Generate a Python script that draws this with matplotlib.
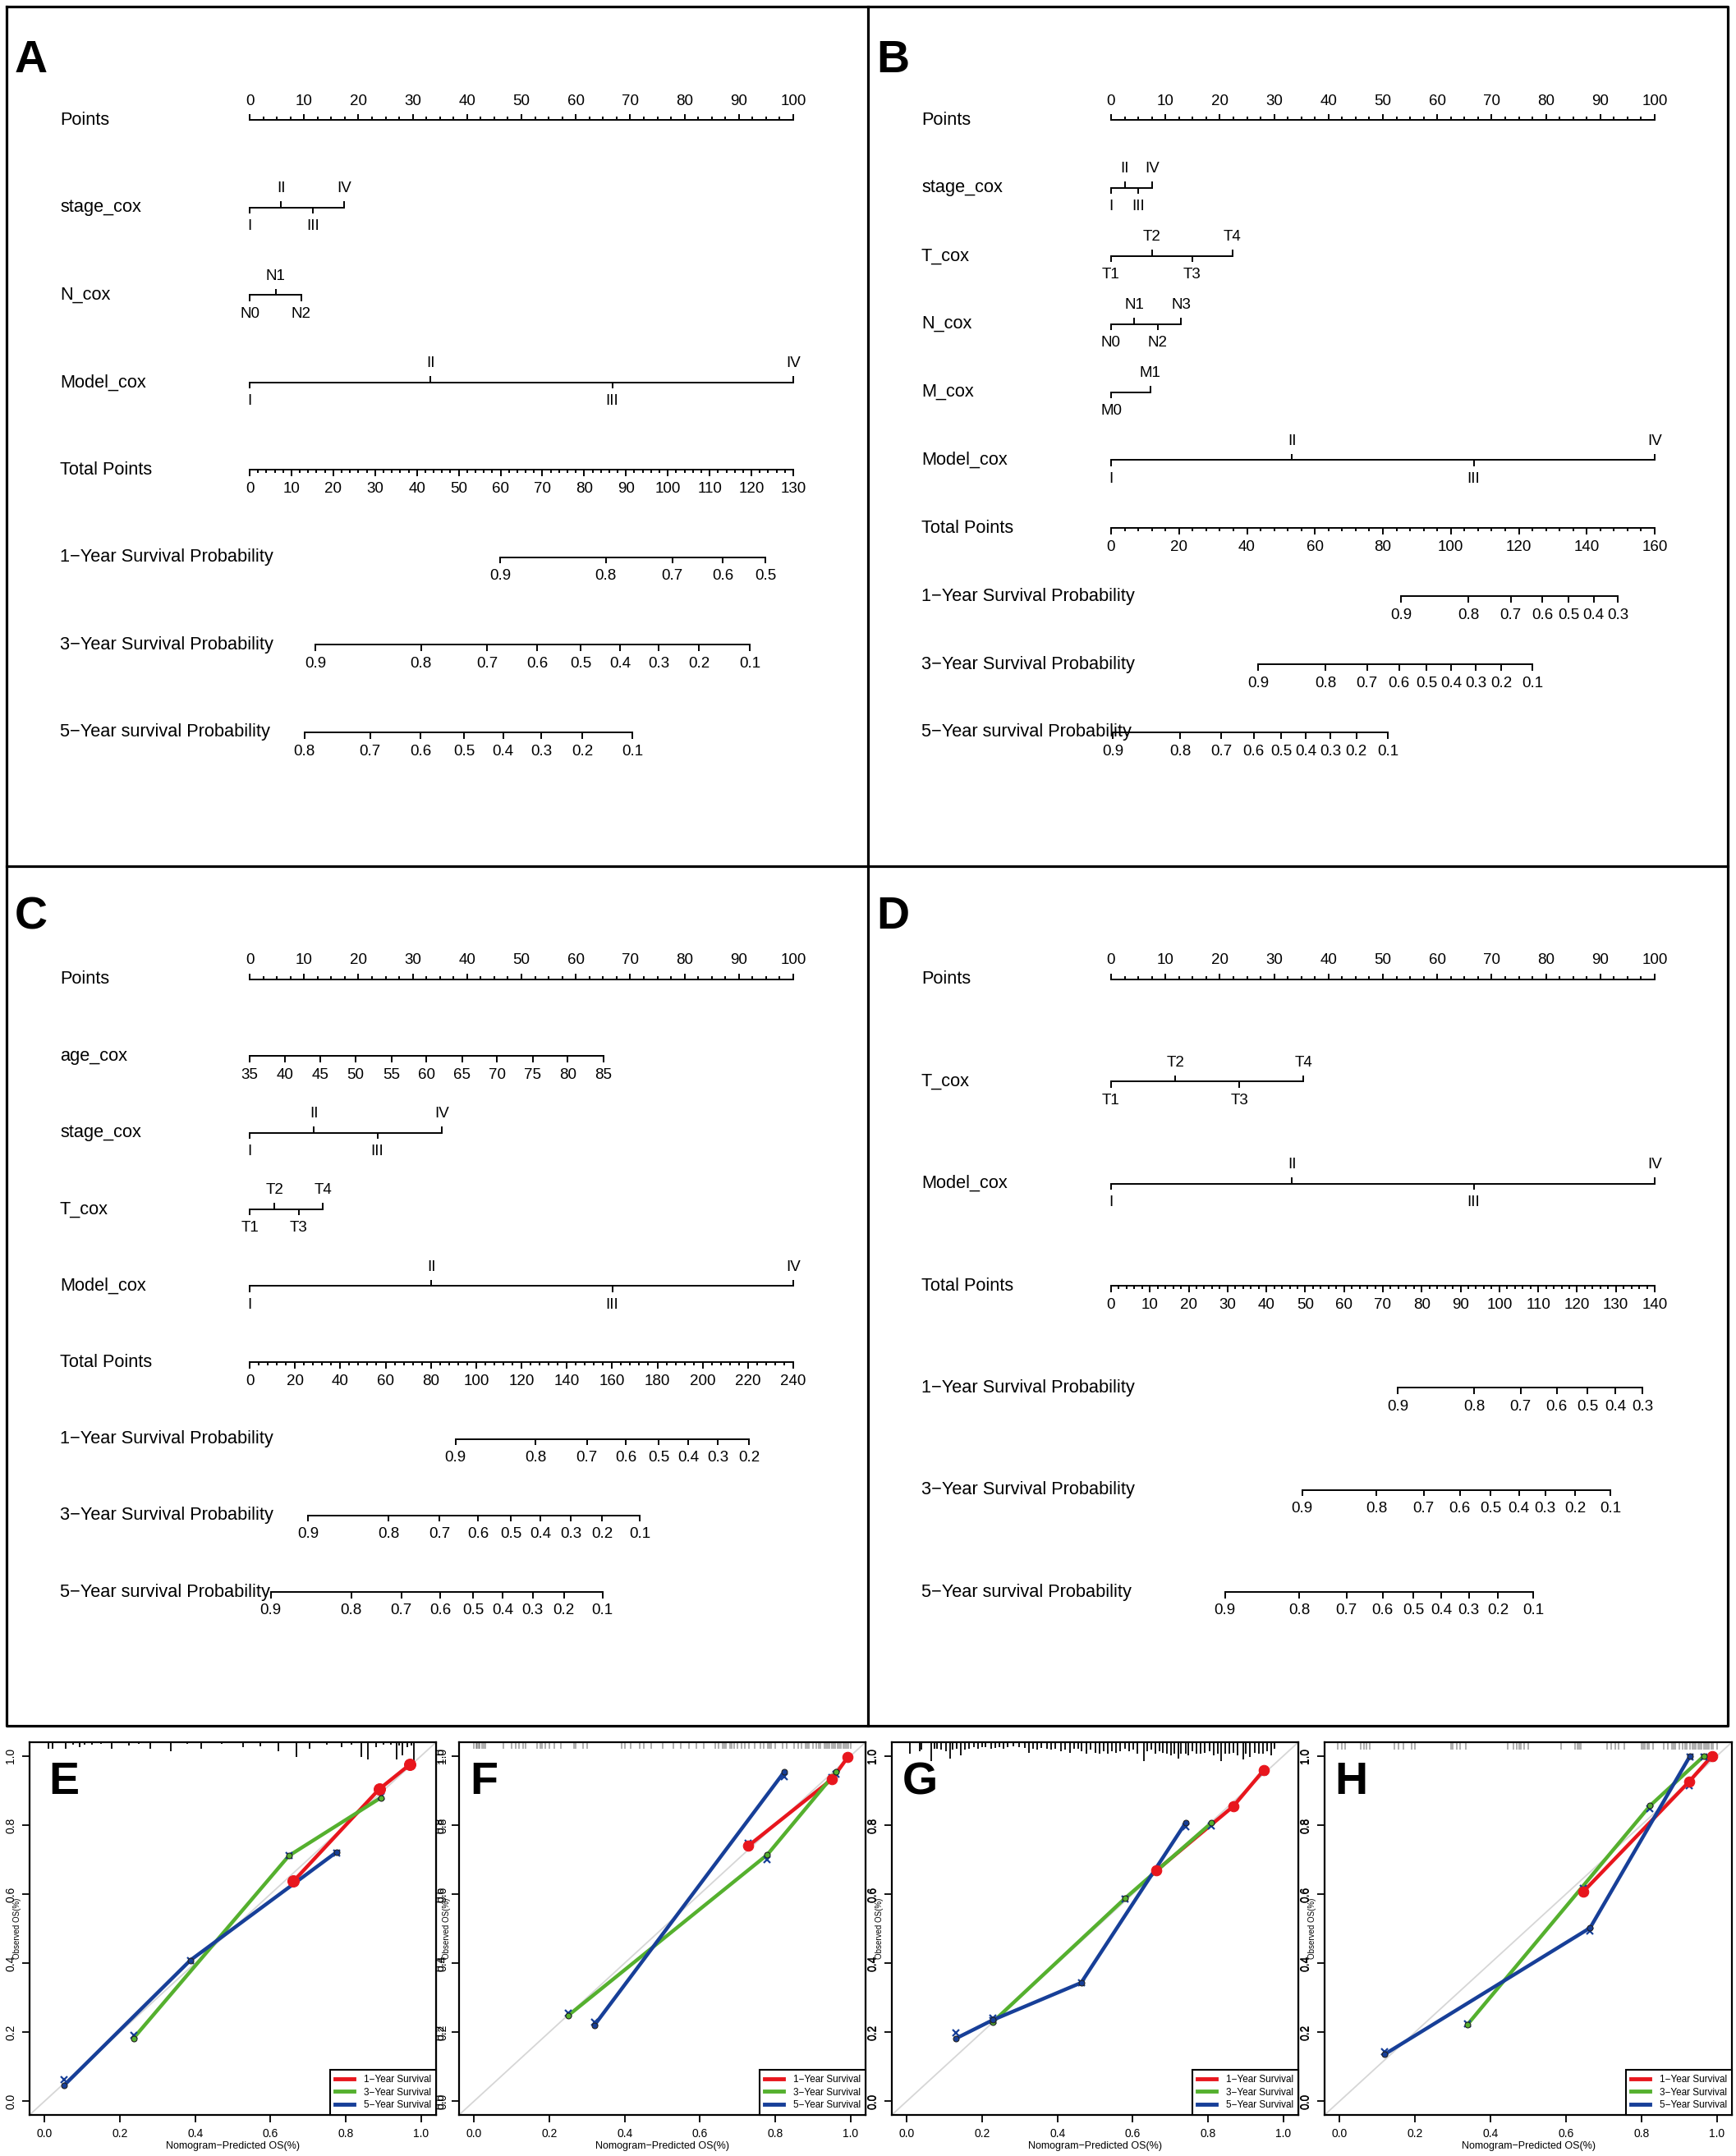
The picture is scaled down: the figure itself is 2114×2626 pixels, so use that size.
import numpy as np
import matplotlib
matplotlib.use("Agg")
import matplotlib.pyplot as plt
from matplotlib.lines import Line2D
from matplotlib.ticker import FormatStrFormatter

plt.rcParams['font.family'] = ['Liberation Sans', 'DejaVu Sans']

# ---------------- nomogram data (points scale 0-100) ----------------
stage_levels = ["I", "II", "III", "IV"]
model_levels = ["I", "II", "III", "IV"]
t_levels = ["T1", "T2", "T3", "T4"]
n3_levels = ["N0", "N1", "N2"]
n4_levels = ["N0", "N1", "N2", "N3"]
m_levels = ["M0", "M1"]

p_9_to_5 = [0.9, 0.8, 0.7, 0.6, 0.5]
p_9_to_3 = [0.9, 0.8, 0.7, 0.6, 0.5, 0.4, 0.3]
p_9_to_2 = [0.9, 0.8, 0.7, 0.6, 0.5, 0.4, 0.3, 0.2]
p_9_to_1 = [0.9, 0.8, 0.7, 0.6, 0.5, 0.4, 0.3, 0.2, 0.1]
p_8_to_1 = [0.8, 0.7, 0.6, 0.5, 0.4, 0.3, 0.2, 0.1]

# panel A
a_stage = [0, 5.8, 11.6, 17.4]
a_n = [0, 4.8, 9.5]
a_model = [0, 33.3, 66.7, 100]
a_total_max = 130
a_1y_tp = [59.9, 85.2, 101.1, 113.1, 123.3]
a_3y_tp = [15.7, 41.0, 56.8, 68.8, 79.2, 88.6, 97.8, 107.5, 119.6]
a_5y_tp = [13.1, 28.8, 40.9, 51.3, 60.6, 69.7, 79.6, 91.5]

# panel B
b_stage = [0, 2.5, 5.0, 7.5]
b_t = [0, 7.5, 14.9, 22.3]
b_n = [0, 4.3, 8.6, 12.9]
b_m = [0, 7.2]
b_model = [0, 33.3, 66.7, 100]
b_total_max = 160
b_1y_tp = [85.4, 105.2, 117.6, 126.9, 134.7, 142.0, 149.2]
b_3y_tp = [43.3, 63.1, 75.3, 84.8, 92.8, 100.1, 107.3, 114.8, 124.1]
b_5y_tp = [0.5, 20.3, 32.5, 42.0, 50.0, 57.3, 64.5, 72.2, 81.5]

# panel C
c_age = [35, 40, 45, 50, 55, 60, 65, 70, 75, 80, 85]
c_age_pts = [0, 6.5, 13.0, 19.5, 26.1, 32.5, 39.1, 45.5, 52.1, 58.5, 65.1]
c_stage = [0, 11.8, 23.5, 35.3]
c_t = [0, 4.6, 9.0, 13.5]
c_model = [0, 33.4, 66.7, 100]
c_total_max = 240
c_1y_tp = [90.9, 126.3, 148.9, 166.1, 180.6, 193.6, 206.6, 220.4]
c_3y_tp = [25.8, 61.4, 83.8, 100.9, 115.4, 128.5, 141.7, 155.5, 172.2]
c_5y_tp = [9.3, 44.9, 67.0, 84.2, 98.7, 111.8, 125.0, 138.8, 155.8]

# panel D
d_t = [0, 11.8, 23.6, 35.4]
d_model = [0, 33.3, 66.7, 100]
d_total_max = 140
d_1y_tp = [73.9, 93.5, 105.5, 114.8, 122.7, 129.9, 136.9]
d_3y_tp = [49.2, 68.3, 80.5, 89.8, 97.7, 105.0, 111.8, 119.5, 128.6]
d_5y_tp = [29.3, 48.5, 60.6, 69.9, 77.8, 85.1, 92.1, 99.7, 108.8]

Y1 = "1\u2212Year Survival Probability"
Y3 = "3\u2212Year Survival Probability"
Y5 = "5\u2212Year survival Probability"

# ---------------- calibration data ----------------
e_red_x = [0.661, 0.889, 0.970]
e_red_y = [0.637, 0.904, 0.975]
e_red_xm = [0.637, 0.904, 0.975]
e_green_x = [0.236, 0.649, 0.893]
e_green_y = [0.182, 0.711, 0.879]
e_green_xm = [0.191, 0.712, 0.882]
e_blue_x = [0.051, 0.387, 0.775]
e_blue_y = [0.045, 0.408, 0.721]
e_blue_xm = [0.063, 0.407, 0.719]

f_red_x = [0.729, 0.951, 0.993]
f_red_y = [0.740, 0.933, 0.997]
f_red_xm = [0.748, 0.937, 0.995]
f_green_x = [0.251, 0.779, 0.962]
f_green_y = [0.249, 0.714, 0.954]
f_green_xm = [0.254, 0.701, 0.947]
f_blue_x = [0.319, 0.824]
f_blue_y = [0.219, 0.954]
f_blue_xm = [0.228, 0.940]

g_red_x = [0.663, 0.867, 0.948]
g_red_y = [0.668, 0.854, 0.959]
g_red_xm = [0.668, 0.854, 0.955]
g_green_x = [0.228, 0.579, 0.809]
g_green_y = [0.229, 0.587, 0.806]
g_green_xm = [0.233, 0.585, 0.797]
g_blue_x = [0.131, 0.228, 0.463, 0.741]
g_blue_y = [0.182, 0.235, 0.343, 0.807]
g_blue_xm = [0.198, 0.241, 0.343, 0.795]

h_red_x = [0.646, 0.926, 0.987]
h_red_y = [0.607, 0.925, 1.000]
h_red_xm = [0.617, 0.915, 0.995]
h_green_x = [0.339, 0.823, 0.966]
h_green_y = [0.222, 0.856, 1.000]
h_green_xm = [0.224, 0.847, 0.998]
h_blue_x = [0.118, 0.664, 0.929]
h_blue_y = [0.135, 0.502, 1.000]
h_blue_xm = [0.143, 0.494, 0.996]

# rug of predicted values at the top (position, length)
e_rug_x = [0.011, 0.020, 0.055, 0.075, 0.094, 0.107, 0.126, 0.150, 0.179, 0.224, 0.250,
           0.280, 0.336, 0.380, 0.417, 0.470, 0.527, 0.573, 0.620, 0.670, 0.705, 0.750,
           0.790, 0.816, 0.841, 0.858, 0.880, 0.900, 0.920, 0.936, 0.942, 0.951, 0.963,
           0.974, 0.981]
e_rug_len = [0.018, 0.018, 0.018, 0.006, 0.014, 0.006, 0.006, 0.005, 0.018, 0.010, 0.005,
             0.018, 0.026, 0.005, 0.018, 0.005, 0.014, 0.012, 0.026, 0.043, 0.018, 0.006,
             0.014, 0.006, 0.043, 0.051, 0.014, 0.008, 0.006, 0.051, 0.010, 0.038, 0.014,
             0.010, 0.055]

f_rug_x = [0.000, 0.005, 0.008, 0.012, 0.015, 0.020, 0.025, 0.030, 0.077, 0.100, 0.110,
           0.120, 0.130, 0.137, 0.167, 0.175, 0.180, 0.190, 0.200, 0.212, 0.230, 0.265,
           0.270, 0.290, 0.300, 0.393, 0.400, 0.415, 0.440, 0.450, 0.470, 0.500, 0.530,
           0.550, 0.570, 0.590, 0.610, 0.640, 0.650, 0.660, 0.665, 0.670, 0.680, 0.685,
           0.690, 0.700, 0.710, 0.720, 0.730, 0.745, 0.760, 0.770, 0.780, 0.785, 0.790,
           0.800, 0.820, 0.830, 0.850, 0.860, 0.870, 0.880, 0.885, 0.890, 0.900, 0.910,
           0.915, 0.920, 0.930, 0.935, 0.940, 0.945, 0.950, 0.955, 0.960, 0.965, 0.970,
           0.975, 0.980, 0.985, 0.990, 0.995, 1.000]
f_rug_len = 0.02

g_rug_x = [0.009, 0.035, 0.039, 0.064, 0.073, 0.080, 0.091, 0.103, 0.115, 0.121, 0.133,
           0.144, 0.155, 0.166, 0.178, 0.189, 0.200, 0.208, 0.223, 0.234, 0.245, 0.256,
           0.268, 0.283, 0.298, 0.313, 0.324, 0.335, 0.346, 0.358, 0.373, 0.384, 0.395,
           0.410, 0.421, 0.433, 0.444, 0.455, 0.463, 0.478, 0.489, 0.500, 0.511, 0.522,
           0.534, 0.545, 0.556, 0.567, 0.579, 0.590, 0.601, 0.612, 0.630, 0.639, 0.650,
           0.661, 0.672, 0.680, 0.691, 0.701, 0.710, 0.721, 0.729, 0.740, 0.747, 0.759,
           0.770, 0.781, 0.792, 0.804, 0.815, 0.826, 0.834, 0.845, 0.856, 0.867, 0.879,
           0.894, 0.901, 0.912, 0.924, 0.935, 0.946, 0.957, 0.967, 0.976]
g_rug_len = [0.034, 0.026, 0.022, 0.055, 0.018, 0.018, 0.022, 0.026, 0.047, 0.022, 0.018,
             0.038, 0.022, 0.018, 0.014, 0.018, 0.014, 0.014, 0.018, 0.016, 0.014, 0.018,
             0.015, 0.013, 0.014, 0.016, 0.030, 0.018, 0.022, 0.016, 0.018, 0.022, 0.018,
             0.026, 0.022, 0.030, 0.018, 0.020, 0.026, 0.034, 0.022, 0.030, 0.034, 0.025,
             0.034, 0.025, 0.030, 0.026, 0.018, 0.025, 0.022, 0.034, 0.055, 0.026, 0.022,
             0.034, 0.025, 0.030, 0.034, 0.038, 0.033, 0.047, 0.034, 0.033, 0.038, 0.026,
             0.034, 0.033, 0.030, 0.026, 0.038, 0.034, 0.055, 0.033, 0.034, 0.030, 0.038,
             0.051, 0.033, 0.043, 0.030, 0.034, 0.033, 0.025, 0.038, 0.018]

h_rug_x = [-0.005, 0.005, 0.015, 0.055, 0.065, 0.072, 0.080, 0.145, 0.155, 0.170, 0.190,
           0.200, 0.295, 0.300, 0.310, 0.320, 0.335, 0.445, 0.460, 0.470, 0.475, 0.480,
           0.490, 0.500, 0.588, 0.625, 0.630, 0.635, 0.640, 0.710, 0.720, 0.730, 0.740,
           0.755, 0.800, 0.805, 0.810, 0.815, 0.820, 0.830, 0.860, 0.870, 0.880, 0.885,
           0.890, 0.900, 0.910, 0.915, 0.920, 0.930, 0.935, 0.940, 0.945, 0.950, 0.955,
           0.960, 0.965, 0.970, 0.975, 0.980, 0.985, 0.990, 1.000]
h_rug_len = 0.022

legend_labels = ["1\u2212Year Survival", "3\u2212Year Survival", "5\u2212Year Survival"]
RED, GREEN, BLUE = '#E8161D', '#55B02E', '#173F98'

# ---------------- layout ----------------
W, H = 2114, 2626
fig = plt.figure(figsize=(W / 100, H / 100), dpi=100)

bg = fig.add_axes([0, 0, 1, 1])
bg.set_xlim(0, W)
bg.set_ylim(H, 0)
bg.axis('off')
for xs, ys in [([8, 2104, 2104, 8, 8], [8, 8, 2102, 2102, 8]),
               ([1057, 1057], [8, 2102]), ([8, 2104], [1055, 1055])]:
    bg.plot(xs, ys, color='black', lw=2.3, solid_capstyle='projecting')

AX0 = 296      # axis start from panel left (px)
SC = 6.62      # px per point
LW = 1.4
ROW_FS = 15.7
TICK_FS = 13.5
OFF = 23


def nomogram(box, letter, letter_dy, rows):
    x0, y0, x1, y1 = box
    w, h = x1 - x0, y1 - y0
    ax = fig.add_axes([x0 / W, 1 - y1 / H, w / W, h / H])
    ax.set_xlim(-AX0 / SC, (w - AX0) / SC)
    ax.set_ylim(h, 0)
    ax.axis('off')
    lbl_x = (65 - AX0) / SC
    ax.text((10 - AX0) / SC, letter_dy, letter, fontsize=40, fontweight='bold',
            ha='left', va='top')
    n = len(rows)
    for i, row in enumerate(rows):
        y = 138 + i * 746 / (n - 1)
        kind = row[0]
        ax.text(lbl_x, y, row[1], fontsize=ROW_FS, ha='left', va='center')
        if kind == 'points':
            ax.plot([0, 100], [y, y], color='k', lw=LW)
            ticks = np.arange(0, 100.01, 2.5)
            major = ticks[ticks % 10 == 0]
            minor = ticks[ticks % 10 != 0]
            ax.vlines(major, y - 7.5, y, color='k', lw=LW)
            ax.vlines(minor, y - 4, y, color='k', lw=LW)
            for v in major:
                ax.text(v, y - OFF, f"{v:g}", fontsize=TICK_FS, ha='center', va='center')
        elif kind == 'cat':
            levels, pts = row[2], row[3]
            ax.plot([pts[0], pts[-1]], [y, y], color='k', lw=LW)
            for j, (lv, p) in enumerate(zip(levels, pts)):
                up = j % 2 == 1
                ax.vlines(p, y - 7.5 if up else y, y if up else y + 7.5, color='k', lw=LW)
                ax.text(p, y - OFF if up else y + OFF, lv, fontsize=TICK_FS,
                        ha='center', va='center')
        elif kind == 'cont':
            labels, pts = row[2], row[3]
            ax.plot([pts[0], pts[-1]], [y, y], color='k', lw=LW)
            ax.vlines(pts, y, y + 7.5, color='k', lw=LW)
            for lv, p in zip(labels, pts):
                ax.text(p, y + OFF, str(lv), fontsize=TICK_FS, ha='center', va='center')
        elif kind == 'total':
            tmax, step, mstep = row[2], row[3], row[4]
            ax.plot([0, 100], [y, y], color='k', lw=LW)
            ticks = np.arange(0, tmax + 0.01, mstep)
            major = ticks[np.isclose(ticks % step, 0)]
            minor = ticks[~np.isclose(ticks % step, 0)]
            ax.vlines(major / tmax * 100, y, y + 7.5, color='k', lw=LW)
            ax.vlines(minor / tmax * 100, y, y + 4, color='k', lw=LW)
            for v in major:
                ax.text(v / tmax * 100, y + OFF, f"{v:g}", fontsize=TICK_FS,
                        ha='center', va='center')
        elif kind == 'prob':
            probs, tps, tmax = row[2], row[3], row[4]
            xs = np.array(tps) / tmax * 100
            ax.plot([xs.min(), xs.max()], [y, y], color='k', lw=LW)
            ax.vlines(xs, y, y + 7.5, color='k', lw=LW)
            for p, x in zip(probs, xs):
                ax.text(x, y + OFF, f"{p:g}", fontsize=TICK_FS, ha='center', va='center')


nomogram((8, 8, 1057, 1055), 'A', 40, [
    ('points', 'Points'),
    ('cat', 'stage_cox', stage_levels, a_stage),
    ('cat', 'N_cox', n3_levels, a_n),
    ('cat', 'Model_cox', model_levels, a_model),
    ('total', 'Total Points', a_total_max, 10, 2),
    ('prob', Y1, p_9_to_5, a_1y_tp, a_total_max),
    ('prob', Y3, p_9_to_1, a_3y_tp, a_total_max),
    ('prob', Y5, p_8_to_1, a_5y_tp, a_total_max),
])

nomogram((1057, 8, 2104, 1055), 'B', 40, [
    ('points', 'Points'),
    ('cat', 'stage_cox', stage_levels, b_stage),
    ('cat', 'T_cox', t_levels, b_t),
    ('cat', 'N_cox', n4_levels, b_n),
    ('cat', 'M_cox', m_levels, b_m),
    ('cat', 'Model_cox', model_levels, b_model),
    ('total', 'Total Points', b_total_max, 20, 4),
    ('prob', Y1, p_9_to_3, b_1y_tp, b_total_max),
    ('prob', Y3, p_9_to_1, b_3y_tp, b_total_max),
    ('prob', Y5, p_9_to_1, b_5y_tp, b_total_max),
])

nomogram((8, 1055, 1057, 2102), 'C', 36, [
    ('points', 'Points'),
    ('cont', 'age_cox', c_age, c_age_pts),
    ('cat', 'stage_cox', stage_levels, c_stage),
    ('cat', 'T_cox', t_levels, c_t),
    ('cat', 'Model_cox', model_levels, c_model),
    ('total', 'Total Points', c_total_max, 20, 4),
    ('prob', Y1, p_9_to_2, c_1y_tp, c_total_max),
    ('prob', Y3, p_9_to_1, c_3y_tp, c_total_max),
    ('prob', Y5, p_9_to_1, c_5y_tp, c_total_max),
])

nomogram((1057, 1055, 2104, 2102), 'D', 36, [
    ('points', 'Points'),
    ('cat', 'T_cox', t_levels, d_t),
    ('cat', 'Model_cox', model_levels, d_model),
    ('total', 'Total Points', d_total_max, 10, 2),
    ('prob', Y1, p_9_to_3, d_1y_tp, d_total_max),
    ('prob', Y3, p_9_to_1, d_3y_tp, d_total_max),
    ('prob', Y5, p_9_to_1, d_5y_tp, d_total_max),
])


# ---------------- calibration plots ----------------
def calib(xspan, letter, letter_x, curves, rug_x, rug_len, rug_color, rug_alpha,
          right_labels=True):
    x0, x1 = xspan
    top, bot = 2122, 2576
    ax = fig.add_axes([x0 / W, 1 - bot / H, (x1 - x0) / W, (bot - top) / H])
    ax.set_xlim(-0.04, 1.04)
    ax.set_ylim(-0.04, 1.04)
    ax.axline((0, 0), (1, 1), color='#d6d6d6', lw=1.3, zorder=1)
    ax.vlines(rug_x, 1.04 - np.asarray(rug_len), 1.04, color=rug_color,
              alpha=rug_alpha, lw=1.3, zorder=2)
    for (cx, cy, cxm, col, ms) in curves:
        ax.plot(cx, cy, color=col, lw=3.2, zorder=3, solid_capstyle='butt')
        ax.plot(cx, cxm, ls='none', marker='x', ms=5.5, mew=1.6, color=BLUE, zorder=4)
        ax.plot(cx, cy, ls='none', marker='o', ms=ms, mfc=col,
                mec=col if col == RED else '#222222', mew=0.8, zorder=5)
    ticks = np.arange(0, 1.01, 0.2)
    ax.set_xticks(ticks)
    ax.set_yticks(ticks)
    ax.xaxis.set_major_formatter(FormatStrFormatter('%.1f'))
    ax.yaxis.set_major_formatter(FormatStrFormatter('%.1f'))
    ax.tick_params(length=6.2, width=1.3, labelsize=10, pad=5)
    ax.tick_params(axis='y', labelrotation=90)
    for lab in ax.get_yticklabels():
        lab.set_va('center')
    if right_labels:
        sec = ax.secondary_yaxis('right')
        sec.set_yticks(ticks)
        sec.yaxis.set_major_formatter(FormatStrFormatter('%.1f'))
        sec.tick_params(length=0, labelsize=10, pad=1, labelrotation=90)
        for lab in sec.get_yticklabels():
            lab.set_va('center')
    for s in ax.spines.values():
        s.set_linewidth(1.6)
    ax.set_xlabel("Nomogram\u2212Predicted OS(%)", fontsize=9, labelpad=2)
    ax.text(-0.031, 0.5, "Observed OS(%)", transform=ax.transAxes, rotation=90,
            fontsize=7, ha='center', va='center')
    ax.text(letter_x, 0.985, letter, fontsize=40, fontweight='bold', ha='left', va='top')
    handles = [Line2D([], [], color=c, lw=3.5) for c in (RED, GREEN, BLUE)]
    leg = ax.legend(handles, legend_labels, loc='lower right', fontsize=8.5,
                    fancybox=False, edgecolor='black', borderaxespad=0,
                    handlelength=2.0, handletextpad=1.0, borderpad=0.5,
                    labelspacing=0.3, framealpha=1)
    leg.get_frame().set_linewidth(1.5)


calib((36, 531), 'E', 0.01, [
    (e_red_x, e_red_y, e_red_xm, RED, 10),
    (e_green_x, e_green_y, e_green_xm, GREEN, 5),
    (e_blue_x, e_blue_y, e_blue_xm, BLUE, 5),
], e_rug_x, e_rug_len, 'black', 1.0)

calib((559, 1054), 'F', -0.01, [
    (f_red_x, f_red_y, f_red_xm, RED, 9),
    (f_green_x, f_green_y, f_green_xm, GREEN, 5),
    (f_blue_x, f_blue_y, f_blue_xm, BLUE, 5),
], f_rug_x, f_rug_len, '#555555', 0.5)

calib((1086, 1581), 'G', -0.013, [
    (g_red_x, g_red_y, g_red_xm, RED, 9),
    (g_green_x, g_green_y, g_green_xm, GREEN, 5),
    (g_blue_x, g_blue_y, g_blue_xm, BLUE, 5),
], g_rug_x, g_rug_len, 'black', 1.0)

calib((1613, 2109), 'H', -0.013, [
    (h_red_x, h_red_y, h_red_xm, RED, 9),
    (h_green_x, h_green_y, h_green_xm, GREEN, 5),
    (h_blue_x, h_blue_y, h_blue_xm, BLUE, 5),
], h_rug_x, h_rug_len, '#555555', 0.5, right_labels=False)

fig.savefig('out.png', dpi=100)
